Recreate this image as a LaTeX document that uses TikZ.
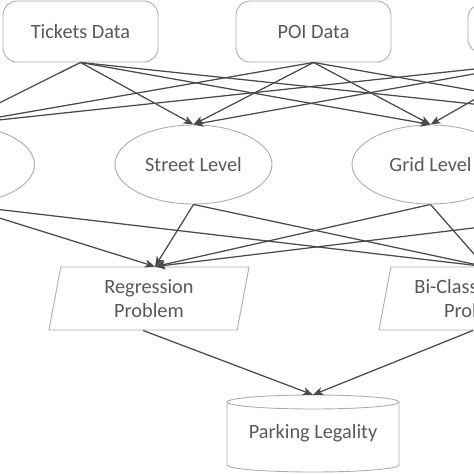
\documentclass[tikz,border=0pt]{standalone}
\usepackage{fontspec}
\setmainfont{Carlito}
\usetikzlibrary{shapes.geometric,arrows.meta}
\definecolor{edgec}{HTML}{4A4A4A}
\definecolor{bordc}{HTML}{ADADAD}
\definecolor{textc}{HTML}{595959}
\begin{document}
\begin{tikzpicture}[x=1pt,y=-1pt,
  every node/.style={font=\fontsize{20.3}{24.5}\selectfont, text=textc, inner sep=0pt},
  databox/.style={draw=bordc, fill=white, line width=0.9pt, rounded corners=14pt, minimum width=155pt, minimum height=61pt},
  levelell/.style={draw=bordc, fill=white, line width=0.9pt, ellipse, minimum width=157pt, minimum height=79pt},
  probbox/.style={draw=bordc, fill=white, line width=0.9pt, trapezium, trapezium left angle=73, trapezium right angle=107, trapezium stretches body, minimum width=200pt, minimum height=63pt, align=center},
  dbbox/.style={minimum width=172pt, minimum height=77pt},
  dbline/.style={draw=bordc, line width=0.9pt},
  conn/.style={draw=edgec, line width=1.25pt, -{Stealth[length=10pt,width=8pt,inset=2.5pt]}}
]
\useasboundingbox (0,0) rectangle (474,474);
\clip (0,0) rectangle (474,474);

% data sources
\node[databox] (T) at (80.5,31.5) {Tickets Data};
\node[databox] (O) at (313.5,31.5) {POI Data};
\node[databox, minimum width=158pt, minimum height=49pt] (X) at (547,28.5) {};
\coordinate (Xs) at (540,62);

% levels
\node[levelell] (A) at (-44,164.5) {};
\node[levelell] (S) at (193.5,164.5) {Street Level};
\node[levelell] (G) at (430.5,164.5) {Grid Level};
\node[levelell] (B) at (667.5,164.5) {};

% problems
\node[probbox] (R) at (149,298.5) {Regression\\Problem};
\node[probbox] (C) at (479,298.5) {Bi-Classification\\Problem};

% result
\node[dbbox] (P) at (313,433.5) {};
\draw[dbline] (227,402) -- (227,465) arc[start angle=180, end angle=360, x radius=86pt, y radius=7pt] -- (399,402);
\draw[dbline] (313,402) ellipse [x radius=86pt, y radius=7pt];
\node at (P.center) {Parking Legality};

% connectors
\foreach \s in {T.south,O.south,Xs}
  \foreach \t in {A,S,G,B}
    \draw[conn] (\s) -- (\t.north);
\foreach \s in {A,S,G,B}
  \foreach \t in {R,C}
    \draw[conn] (\s.south) -- (\t.top side);
\draw[conn] (R.bottom side) -- (P.north);
\draw[conn] (C.bottom side) -- (P.north);
\end{tikzpicture}
\end{document}
